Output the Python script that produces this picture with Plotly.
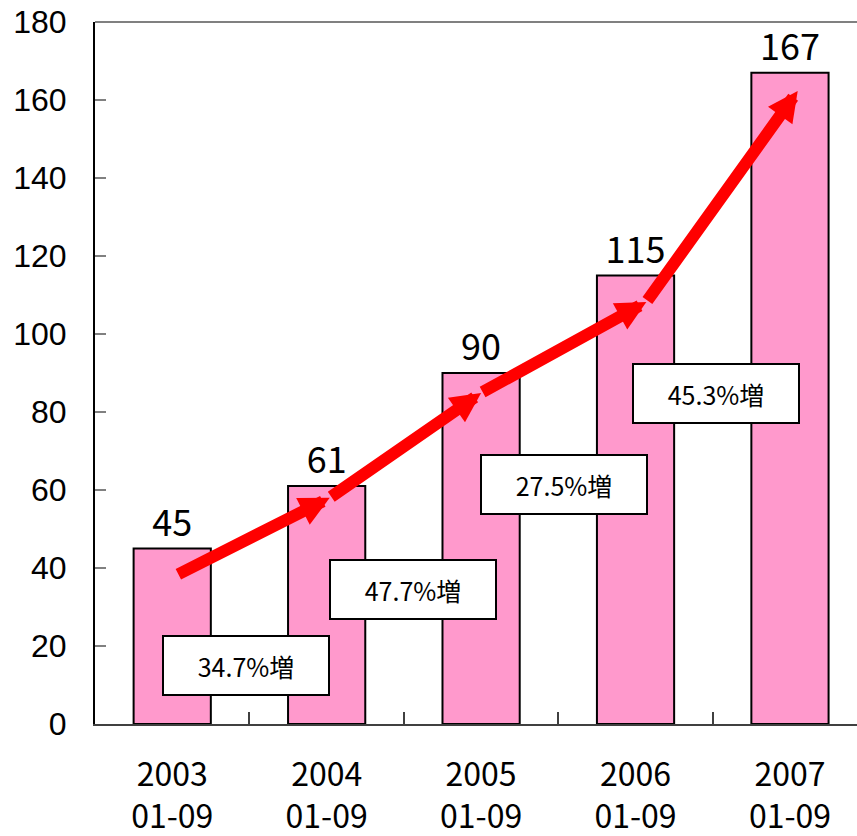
import plotly.graph_objects as go

# Sales count for the January–September period of each year
years = ["2003<br>01-09", "2004<br>01-09", "2005<br>01-09", "2006<br>01-09", "2007<br>01-09"]
values = [45, 61, 90, 115, 167]

# Year-over-year growth call-outs placed between neighbouring bars
growth_labels = ["34.7%増", "47.7%増", "27.5%増", "45.3%増"]
growth_pos_x = [0.48, 1.56, 2.54, 3.52]
growth_pos_y = [15.0, 34.4, 61.4, 84.7]

# Trend arrow vertices (category index, value)
trend_x = [0.03, 1.02, 2.0, 3.07, 4.05]
trend_y = [38.2, 58.0, 84.9, 108.2, 162.3]

y_ticks = list(range(0, 181, 20))

fig = go.Figure()
fig.add_trace(go.Bar(
    x=years,
    y=values,
    width=0.5,
    marker=dict(color="#FF99CC", line=dict(color="#000000", width=2)),
    text=[str(v) for v in values],
    textposition="outside",
    textfont=dict(family="Noto Sans CJK JP", size=36, color="#000000"),
    cliponaxis=False,
    hoverinfo="skip",
))

annotations = []
for i in range(len(trend_x) - 1):
    annotations.append(dict(
        x=trend_x[i + 1], y=trend_y[i + 1], xref="x", yref="y",
        ax=trend_x[i], ay=trend_y[i], axref="x", ayref="y",
        text="", showarrow=True,
        arrowhead=2, arrowsize=0.5, arrowwidth=12, arrowcolor="#FF0000",
        standoff=0,
    ))
for lbl, gx, gy in zip(growth_labels, growth_pos_x, growth_pos_y):
    annotations.append(dict(
        x=gx, y=gy, xref="x", yref="y", text=lbl, showarrow=False,
        font=dict(family="Noto Sans CJK JP", size=25, color="#000000"),
        bgcolor="#FFFFFF", bordercolor="#000000", borderwidth=2, borderpad=0,
        width=164, height=57, xanchor="center", yanchor="middle",
    ))

fig.update_layout(
    width=857, height=836,
    margin=dict(l=95, r=0, t=22, b=112),
    paper_bgcolor="#FFFFFF", plot_bgcolor="#FFFFFF",
    showlegend=False,
    annotations=annotations,
    shapes=[dict(type="line", xref="paper", yref="paper", x0=0, x1=1, y0=1, y1=1,
                 line=dict(color="#808080", width=2))],
    xaxis=dict(
        type="category",
        range=[-0.5, 4.434],
        automargin=False,
        tickfont=dict(family="Noto Sans CJK JP", size=32, color="#000000"),
        ticklabelstandoff=22,
        showline=True, linecolor="#404040", linewidth=2,
        ticks="inside", tickson="boundaries", ticklen=12, tickcolor="#404040", tickwidth=2,
        showgrid=False, zeroline=False, fixedrange=True,
    ),
    yaxis=dict(
        range=[0, 180],
        automargin=False,
        tickmode="array", tickvals=y_ticks,
        tickfont=dict(family="Liberation Sans", size=32, color="#000000"),
        ticklabelstandoff=20,
        showline=True, linecolor="#000000", linewidth=2,
        ticks="inside", ticklen=11, tickcolor="#808080", tickwidth=2,
        showgrid=False, zeroline=False, fixedrange=True,
    ),
)

fig.write_html("out.html")
